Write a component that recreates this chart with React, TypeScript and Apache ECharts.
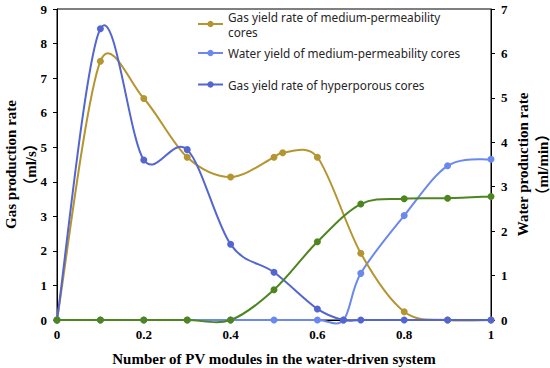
import React, { useEffect, useRef } from "react";
import * as echarts from "echarts";

// ---- data ----
const xTicks = [0, 0.2, 0.4, 0.6, 0.8, 1];

const medGasName = "Gas yield rate of medium-permeability cores";
const medGasX = [0, 0.1, 0.2, 0.3, 0.4, 0.5, 0.52, 0.6, 0.7, 0.8, 0.9, 1];
const medGasY = [0, 7.49, 6.41, 4.71, 4.14, 4.71, 4.84, 4.71, 1.93, 0.24, 0, 0];

const hypGasName = "Gas yield rate of hyperporous cores";
const hypGasX = [0, 0.1, 0.2, 0.3, 0.4, 0.5, 0.6, 0.66, 0.7, 0.8, 0.9, 1];
const hypGasY = [0, 8.43, 4.63, 4.93, 2.19, 1.38, 0.32, 0, 0, 0, 0, 0];

const medWaterName = "Water yield of medium-permeability cores";
const medWaterX = [0, 0.1, 0.2, 0.3, 0.4, 0.5, 0.6, 0.66, 0.7, 0.8, 0.9, 1];
const medWaterY = [0, 0, 0, 0, 0, 0, 0, 0, 1.05, 2.35, 3.47, 3.62];

const hypWaterName = "Water yield of hyperporous cores";
const hypWaterX = [0, 0.1, 0.2, 0.3, 0.4, 0.5, 0.6, 0.7, 0.8, 0.9, 1];
const hypWaterY = [0, 0, 0, 0, 0, 0.68, 1.76, 2.61, 2.73, 2.74, 2.78];

const zip = (xs: number[], ys: number[]) => xs.map((x, i) => [x, ys[i]]);

const serif = "'Liberation Serif', 'Times New Roman', 'Noto Sans CJK SC', serif";
const sans = "'Noto Sans', 'Open Sans', sans-serif";

// Excel-like smoothed curve: one cubic Bezier per segment (Catmull-Rom in pixel space,
// control arm limited to half of the segment length)
function smoothCurve(name: string, xs: number[], ys: number[], color: string, yAxisIndex: number, z: number) {
  return {
    name: name + " curve",
    type: "custom",
    yAxisIndex,
    z,
    silent: true,
    clip: false,
    data: xs.slice(0, -1).map((x, i) => [x, ys[i]]),
    renderItem: (params: any, api: any) => {
      const i = params.dataIndex;
      const n = xs.length;
      const p = (k: number) => {
        const kk = Math.max(0, Math.min(n - 1, k));
        return api.coord([xs[kk], ys[kk]]);
      };
      const p0 = p(i - 1);
      const p1 = p(i);
      const p2 = p(i + 1);
      const p3 = p(i + 2);
      const f = 1 / 6;
      const seg = Math.hypot(p2[0] - p1[0], p2[1] - p1[1]);
      const arm = (dx: number, dy: number) => {
        const len = Math.hypot(dx, dy);
        const lim = 0.5 * seg;
        const s = len > lim && len > 0 ? lim / len : 1;
        return [dx * s, dy * s];
      };
      const a1 = arm((p2[0] - p0[0]) * f, (p2[1] - p0[1]) * f);
      const a2 = arm((p3[0] - p1[0]) * f, (p3[1] - p1[1]) * f);
      return {
        type: "bezierCurve",
        shape: {
          x1: p1[0],
          y1: p1[1],
          x2: p2[0],
          y2: p2[1],
          cpx1: p1[0] + a1[0],
          cpy1: p1[1] + a1[1],
          cpx2: p2[0] - a2[0],
          cpy2: p2[1] - a2[1],
        },
        style: { stroke: color, lineWidth: 2, fill: "none" },
      };
    },
  };
}

function markers(name: string, xs: number[], ys: number[], color: string, yAxisIndex: number, z: number) {
  return {
    name,
    type: "line",
    data: zip(xs, ys),
    yAxisIndex,
    symbol: "circle",
    symbolSize: 7,
    z,
    lineStyle: { color, width: 2, opacity: 0 },
    itemStyle: { color },
  };
}

export default function App() {
  const ref = useRef<HTMLDivElement>(null);
  useEffect(() => {
    document.body.style.margin = "0";
    if (!ref.current) return;
    const chart = echarts.init(ref.current, undefined, { renderer: "svg" });
    const legendText = { fontFamily: sans, fontSize: 11.8, color: "#262626", lineHeight: 15 };
    const legendBase = {
      orient: "vertical",
      padding: 0,
      itemWidth: 25,
      itemHeight: 8,
      left: 197,
      textStyle: legendText,
      lineStyle: { opacity: 1, width: 2 },
    };
    const cols = {
      medWater: "#6B88EE",
      medGas: "#B5952F",
      hypGas: "#5366D0",
      hypWater: "#4D861F",
    };
    const titleStyle = { fontFamily: serif, fontWeight: "bold", fontSize: 15, color: "#000", lineHeight: 20 };
    chart.setOption({
      animation: false,
      backgroundColor: "#ffffff",
      grid: {
        left: 57,
        right: 59,
        top: 9,
        bottom: 48,
        outerBoundsMode: "none",
        containLabel: false,
        show: true,
        borderColor: "#000",
        borderWidth: 1,
        backgroundColor: "transparent",
      },
      legend: [
        {
          ...legendBase,
          top: 1.5,
          data: [medGasName],
          formatter: () => "Gas yield rate of medium-permeability\ncores",
          textStyle: { ...legendText, padding: [15, 0, 0, 0] },
        },
        { ...legendBase, top: 45.5, data: [medWaterName] },
        { ...legendBase, top: 77, data: [hypGasName] },
      ],
      xAxis: {
        type: "value",
        min: 0,
        max: 1,
        interval: 0.2,
        name: "Number of PV modules in the water-driven system",
        nameLocation: "middle",
        nameGap: 31,
        nameMoveOverlap: false,
        nameTextStyle: { fontFamily: serif, fontWeight: "bold", fontSize: 15, color: "#000" },
        axisLine: { lineStyle: { color: "#000", width: 1 } },
        axisTick: { show: false },
        splitLine: { show: false },
        axisLabel: {
          fontFamily: serif,
          fontWeight: "bold",
          fontSize: 13,
          color: "#000",
          margin: 8,
          formatter: (v: number) => (xTicks.includes(Math.round(v * 10) / 10) ? String(Math.round(v * 10) / 10) : ""),
        },
      },
      yAxis: [
        {
          type: "value",
          min: 0,
          max: 9,
          interval: 1,
          name: "Gas production rate\n（ml/s）",
          nameLocation: "middle",
          nameRotate: 90,
          nameGap: 16,
          nameMoveOverlap: false,
          nameTextStyle: titleStyle,
          axisLine: { show: true, lineStyle: { color: "#000", width: 1 } },
          axisTick: { show: true, length: 4, lineStyle: { color: "#000" } },
          splitLine: { show: false },
          axisLabel: { fontFamily: serif, fontWeight: "bold", fontSize: 13, color: "#000", margin: 10 },
        },
        {
          type: "value",
          min: 0,
          max: 7,
          interval: 1,
          position: "right",
          name: "Water production rate\n（ml/min）",
          nameLocation: "middle",
          nameRotate: 90,
          nameGap: 22,
          nameMoveOverlap: false,
          nameTextStyle: titleStyle,
          axisLine: { show: true, lineStyle: { color: "#000", width: 1 } },
          axisTick: { show: true, length: 4, lineStyle: { color: "#000" } },
          splitLine: { show: false },
          axisLabel: { fontFamily: serif, fontWeight: "bold", fontSize: 13, color: "#000", margin: 10 },
        },
      ],
      series: [
        smoothCurve(medWaterName, medWaterX, medWaterY, cols.medWater, 1, 2),
        markers(medWaterName, medWaterX, medWaterY, cols.medWater, 1, 3),
        smoothCurve(medGasName, medGasX, medGasY, cols.medGas, 0, 4),
        markers(medGasName, medGasX, medGasY, cols.medGas, 0, 5),
        smoothCurve(hypGasName, hypGasX, hypGasY, cols.hypGas, 0, 6),
        markers(hypGasName, hypGasX, hypGasY, cols.hypGas, 0, 7),
        smoothCurve(hypWaterName, hypWaterX, hypWaterY, cols.hypWater, 1, 8),
        markers(hypWaterName, hypWaterX, hypWaterY, cols.hypWater, 1, 9),
      ],
    });
    return () => chart.dispose();
  }, []);
  return <div ref={ref} style={{ width: 550, height: 368 }} />;
}
